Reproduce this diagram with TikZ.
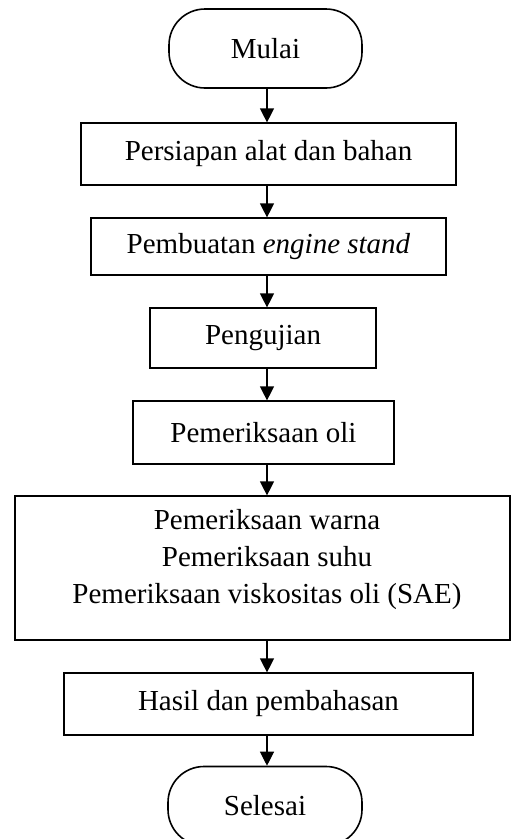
\documentclass[tikz,border=0pt]{standalone}
\usepackage{fontspec}
\setmainfont{Liberation Serif}
\usetikzlibrary{arrows.meta}
\begin{document}
\begin{tikzpicture}[x=1pt,y=-1pt,
  every node/.style={font=\fontsize{29}{37}\selectfont, inner sep=0pt},
  box/.style={draw=black, line width=1.2pt, rectangle},
  term/.style={draw=black, line width=1.6pt, rectangle, rounded corners=36pt},
  arr/.style={line width=1.2pt, -{Triangle[length=14pt,width=14pt]}}]
\clip (0,0) rectangle (511,839);
\useasboundingbox (0,0) rectangle (511,839);
\node[term, minimum width=193pt, minimum height=79pt] (mulai) at (265.5,48.5) {Mulai};
\node[box, minimum width=375pt, minimum height=62pt] (b1) at (268.5,154) {Persiapan alat dan bahan};
\node[box, minimum width=355pt, minimum height=57pt] (b2) at (268.5,246.5) {Pembuatan \textit{engine stand}};
\node[box, minimum width=226pt, minimum height=60pt] (b3) at (263,338) {Pengujian};
\node[box, minimum width=261pt, minimum height=63pt] (b4) at (263.5,432.5) {Pemeriksaan oli};
\node[box, minimum width=495pt, minimum height=144pt] (b5) at (262.5,568) {};
\node[align=center] (b5t) at (267,560) {Pemeriksaan warna\\Pemeriksaan suhu\\Pemeriksaan viskositas oli (SAE)};
\node[box, minimum width=409pt, minimum height=62pt] (b6) at (268.5,704) {Hasil dan pembahasan};
\node[term, minimum width=194pt, minimum height=79pt] (selesai) at (265,806) {Selesai};
\coordinate (ax) at (267,0);
\draw[arr] (mulai.south -| ax) -- (b1.north -| ax);
\draw[arr] (b1.south -| ax) -- (b2.north -| ax);
\draw[arr] (b2.south -| ax) -- (b3.north -| ax);
\draw[arr] (b3.south -| ax) -- (b4.north -| ax);
\draw[arr] (b4.south -| ax) -- (b5.north -| ax);
\draw[arr] (b5.south -| ax) -- (b6.north -| ax);
\draw[arr] (b6.south -| ax) -- (selesai.north -| ax);
\end{tikzpicture}
\end{document}
